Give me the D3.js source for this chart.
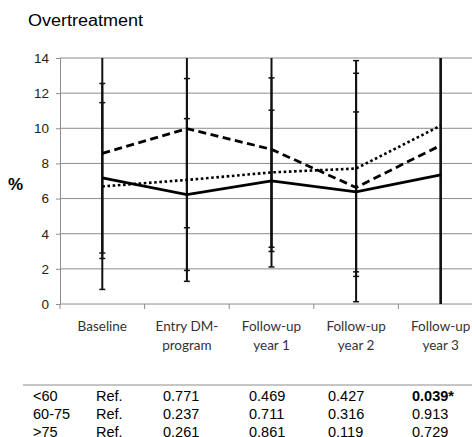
<!DOCTYPE html>
<html>
<head>
<meta charset="utf-8">
<script src="https://cdn.jsdelivr.net/npm/d3@7"></script>
<style>
  body { margin: 0; background: #fff; }
  svg { display: block; }
</style>
</head>
<body>
<div id="vis"></div>
<script>
// data
const categories = ["Baseline", "Entry DM-program", "Follow-up year 1", "Follow-up year 2", "Follow-up year 3"];
const categoryLabels = [["Baseline"], ["Entry DM-", "program"], ["Follow-up", "year 1"], ["Follow-up", "year 2"], ["Follow-up", "year 3"]];

const solidValues  = [7.18, 6.23, 7.01, 6.38, 7.35];
const solidErrors  = [4.28, 4.32, 4.02, 4.55, 9.0];
const dashedValues = [8.57, 9.98, 8.80, 6.63, 9.03];
const dashedErrors = [5.98, 5.64, 5.57, 6.50, 11.0];
const dottedValues = [6.69, 7.06, 7.49, 7.71, 10.15];
const dottedErrors = [5.86, 5.77, 5.38, 6.14, 12.0];

const yTicks = [0, 2, 4, 6, 8, 10, 12, 14];

const tableGroups = ["<60", "60-75", ">75"];
const tableValues = [
  ["Ref.", "0.771", "0.469", "0.427", "0.039*"],
  ["Ref.", "0.237", "0.711", "0.316", "0.913"],
  ["Ref.", "0.261", "0.861", "0.119", "0.729"]
];
const boldCells = [[0, 4]];

// frame
const FRAME_WIDTH = 472;
const FRAME_HEIGHT = 437;
const MARGINS = {left: 60, top: 58, bottom: 304, right: 483};

const svg = d3.select("#vis")
  .append("svg")
    .attr("width", FRAME_WIDTH)
    .attr("height", FRAME_HEIGHT);

const X_SCALE = d3.scaleBand()
  .domain(categories)
  .range([MARGINS.left, MARGINS.right]);

const Y_SCALE = d3.scaleLinear()
  .domain([0, 14])
  .range([MARGINS.bottom, MARGINS.top]);

const xc = (c) => X_SCALE(c) + X_SCALE.bandwidth() / 2;

// title
svg.append("text")
  .attr("x", 28).attr("y", 26)
  .attr("font-family", "Liberation Sans, Arial, sans-serif")
  .attr("font-size", "16px")
  .attr("textLength", 115)
  .attr("lengthAdjust", "spacingAndGlyphs")
  .text("Overtreatment");

// gridlines
svg.append("g")
  .selectAll("line")
  .data(yTicks.slice(1))
  .enter().append("line")
    .attr("x1", MARGINS.left).attr("x2", FRAME_WIDTH + 20)
    .attr("y1", d => Y_SCALE(d)).attr("y2", d => Y_SCALE(d))
    .attr("stroke", "#8c8c8c").attr("stroke-width", 1);

// y axis
const yAxis = svg.append("g")
  .attr("transform", "translate(" + MARGINS.left + ",0)")
  .call(d3.axisLeft(Y_SCALE).tickValues(yTicks).tickSize(4).tickPadding(7));
yAxis.select(".domain").attr("stroke", "#8c8c8c");
yAxis.selectAll(".tick line").attr("stroke", "#8c8c8c");
yAxis.selectAll("text")
  .attr("font-family", "Liberation Sans, Arial, sans-serif")
  .attr("font-size", "13.5px")
  .attr("fill", "#222");

svg.append("text")
  .attr("x", 8).attr("y", 190)
  .attr("font-family", "Liberation Sans, Arial, sans-serif")
  .attr("font-size", "17px")
  .attr("font-weight", "bold")
  .text("%");

// x axis
const xAxis = svg.append("g")
  .attr("transform", "translate(0," + MARGINS.bottom + ")");
xAxis.append("line")
  .attr("x1", MARGINS.left).attr("x2", FRAME_WIDTH + 20)
  .attr("stroke", "#8c8c8c");
xAxis.selectAll(".xtick")
  .data(categories)
  .enter().append("line")
    .attr("x1", d => X_SCALE(d)).attr("x2", d => X_SCALE(d))
    .attr("y1", 0).attr("y2", 5)
    .attr("stroke", "#8c8c8c");

const labels = svg.append("g")
  .selectAll("text")
  .data(categories)
  .enter().append("text")
    .attr("text-anchor", "middle")
    .attr("font-family", "Lato, Open Sans, sans-serif")
    .attr("font-size", "13.5px")
    .attr("fill", "#333");
labels.each(function(d, i) {
  const t = d3.select(this);
  categoryLabels[i].forEach((line, j) => {
    t.append("tspan")
      .attr("x", xc(d))
      .attr("y", 331 + j * 19)
      .text(line);
  });
});

// plot area clip
svg.append("clipPath").attr("id", "plotclip")
  .append("rect")
    .attr("x", MARGINS.left).attr("y", MARGINS.top)
    .attr("width", MARGINS.right - MARGINS.left)
    .attr("height", MARGINS.bottom - MARGINS.top);

const plot = svg.append("g").attr("clip-path", "url(#plotclip)");

const series = [
  {values: solidValues, errors: solidErrors, dash: null, width: 2.8},
  {values: dashedValues, errors: dashedErrors, dash: "8,4.5", width: 2.8},
  {values: dottedValues, errors: dottedErrors, dash: "2.6,2.6", width: 2.6}
];

// error bars
series.forEach(s => {
  const g = plot.append("g");
  categories.forEach((c, i) => {
    const lo = s.values[i] - s.errors[i];
    const hi = s.values[i] + s.errors[i];
    g.append("line")
      .attr("x1", xc(c)).attr("x2", xc(c))
      .attr("y1", Y_SCALE(lo)).attr("y2", Y_SCALE(hi))
      .attr("stroke", "#111").attr("stroke-width", 2);
    [lo, hi].forEach(v => {
      g.append("line")
        .attr("x1", xc(c) - 3).attr("x2", xc(c) + 3)
        .attr("y1", Y_SCALE(v)).attr("y2", Y_SCALE(v))
        .attr("stroke", "#111").attr("stroke-width", 1.5);
    });
  });
});

// lines
const lineGen = d3.line()
  .x((d, i) => xc(categories[i]))
  .y(d => Y_SCALE(d));

series.forEach(s => {
  plot.append("path")
    .datum(s.values)
    .attr("d", lineGen)
    .attr("fill", "none")
    .attr("stroke", "#000")
    .attr("stroke-width", s.width)
    .attr("stroke-dasharray", s.dash);
});

// table under the chart
svg.append("line")
  .attr("x1", 23).attr("x2", FRAME_WIDTH)
  .attr("y1", 385).attr("y2", 385)
  .attr("stroke", "#8c8c8c");

const TABLE_COL_X = [96, 163, 249, 328, 412];
tableGroups.forEach((grp, r) => {
  const y = 401 + r * 18;
  svg.append("text")
    .attr("x", 33).attr("y", y)
    .attr("font-family", "Liberation Sans, Arial, sans-serif")
    .attr("font-size", "14.5px")
    .text(grp);
  tableValues[r].forEach((v, c) => {
    const bold = boldCells.some(b => b[0] === r && b[1] === c);
    svg.append("text")
      .attr("x", TABLE_COL_X[c]).attr("y", y)
      .attr("font-family", "Liberation Sans, Arial, sans-serif")
      .attr("font-size", "14.5px")
      .attr("font-weight", bold ? "bold" : "normal")
      .text(v);
  });
});
</script>
</body>
</html>
